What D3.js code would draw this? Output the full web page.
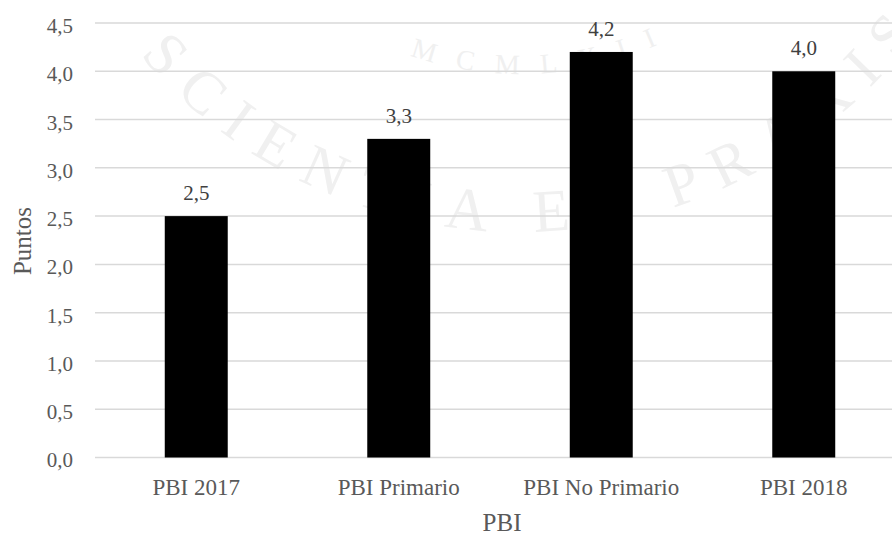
<!DOCTYPE html>
<html>
<head>
<meta charset="utf-8">
<script src="https://cdn.jsdelivr.net/npm/d3@7"></script>
<style>
  html, body { margin: 0; padding: 0; background: #ffffff; }
  svg { display: block; }
  svg text { font-family: "Liberation Serif", "Times New Roman", serif; }
</style>
</head>
<body>
<svg id="chart" width="892" height="534"></svg>
<script>
// Growth by component, in points
const categories = ["PBI 2017", "PBI Primario", "PBI No Primario", "PBI 2018"];
const values = [2.5, 3.3, 4.2, 4.0];
const yTicks = [0, 0.5, 1, 1.5, 2, 2.5, 3, 3.5, 4, 4.5];
const xTitle = "PBI";
const yTitle = "Puntos";

const svg = d3.select("#chart");
const W = 892, H = 534;
const margin = { left: 95, right: -13, top: 23, bottom: 76.5 };
const serif = '"Liberation Serif", "Times New Roman", serif';
const fmt = v => d3.format(".1f")(v).replace(".", ",");

svg.append("rect").attr("width", W).attr("height", H).attr("fill", "#ffffff");

// Faint seal lettering in the background
function arcPath(cx, cy, r, a0, a1) {
  const rad = a => a * Math.PI / 180;
  const p0 = [cx + r * Math.cos(rad(a0)), cy + r * Math.sin(rad(a0))];
  const p1 = [cx + r * Math.cos(rad(a1)), cy + r * Math.sin(rad(a1))];
  return `M ${p0[0]} ${p0[1]} A ${r} ${r} 0 0 0 ${p1[0]} ${p1[1]}`;
}
const sealCx = 520, sealCy = -264;
const defs = svg.append("defs");
defs.append("path").attr("id", "arcOuter").attr("d", arcPath(sealCx, sealCy, 496, 140, 37));
defs.append("path").attr("id", "arcInner").attr("d", arcPath(sealCx, sealCy, 338, 109, 66));
const wm = svg.append("g").attr("fill", "#f0f0f0");
wm.append("text").style("font-size", "60px")
  .append("textPath").attr("href", "#arcOuter")
  .attr("textLength", 496 * (140 - 37) * Math.PI / 180)
  .attr("lengthAdjust", "spacing")
  .text("SCIENTIA ET PRAXIS");
wm.append("text").style("font-size", "28px")
  .append("textPath").attr("href", "#arcInner")
  .attr("textLength", 338 * (109 - 66) * Math.PI / 180)
  .attr("lengthAdjust", "spacing")
  .text("MCMLXII");

const x = d3.scaleBand()
  .domain(categories)
  .range([margin.left, W - margin.right])
  .paddingInner(0.689)
  .paddingOuter(0.3445);

const y = d3.scaleLinear()
  .domain([0, 4.5])
  .range([H - margin.bottom, margin.top]);

// Horizontal gridlines
svg.append("g")
  .selectAll("line")
  .data(yTicks)
  .join("line")
  .attr("x1", margin.left)
  .attr("x2", W - margin.right)
  .attr("y1", d => y(d))
  .attr("y2", d => y(d))
  .attr("stroke", "#d9d9d9")
  .attr("stroke-width", 1.5);

// Y axis labels
const yAxis = d3.axisLeft(y).tickValues(yTicks).tickFormat(fmt).tickSize(0).tickPadding(0);
const gy = svg.append("g")
  .attr("transform", `translate(${margin.left - 22},0)`)
  .call(yAxis)
  .attr("font-family", serif);
gy.select(".domain").remove();
gy.selectAll("text")
  .attr("dy", "0.45em")
  .style("font-size", "21px")
  .attr("fill", "#595959");

// Bars
svg.append("g")
  .selectAll("rect")
  .data(values)
  .join("rect")
  .attr("x", (d, i) => x(categories[i]))
  .attr("width", x.bandwidth())
  .attr("y", d => y(d))
  .attr("height", d => y(0) - y(d))
  .attr("fill", "#000000");

// Value labels
svg.append("g")
  .selectAll("text")
  .data(values)
  .join("text")
  .attr("x", (d, i) => x(categories[i]) + x.bandwidth() / 2)
  .attr("y", d => y(d) - 16)
  .attr("text-anchor", "middle")
  .style("font-size", "21px")
  .attr("fill", "#404040")
  .text(d => fmt(d));

// X axis labels
const xAxis = d3.axisBottom(x).tickSize(0).tickPadding(0);
const gx = svg.append("g")
  .attr("transform", `translate(0,${y(0) + 21})`)
  .call(xAxis)
  .attr("font-family", serif);
gx.select(".domain").remove();
gx.selectAll("text")
  .style("font-size", "23px")
  .attr("fill", "#595959");

// Axis titles
svg.append("text")
  .attr("x", 502)
  .attr("y", 531)
  .attr("text-anchor", "middle")
  .style("font-size", "25px")
  .attr("fill", "#595959")
  .text(xTitle);

svg.append("text")
  .attr("transform", "translate(31,241) rotate(-90)")
  .attr("text-anchor", "middle")
  .style("font-size", "25px")
  .attr("fill", "#595959")
  .text(yTitle);
</script>
</body>
</html>
